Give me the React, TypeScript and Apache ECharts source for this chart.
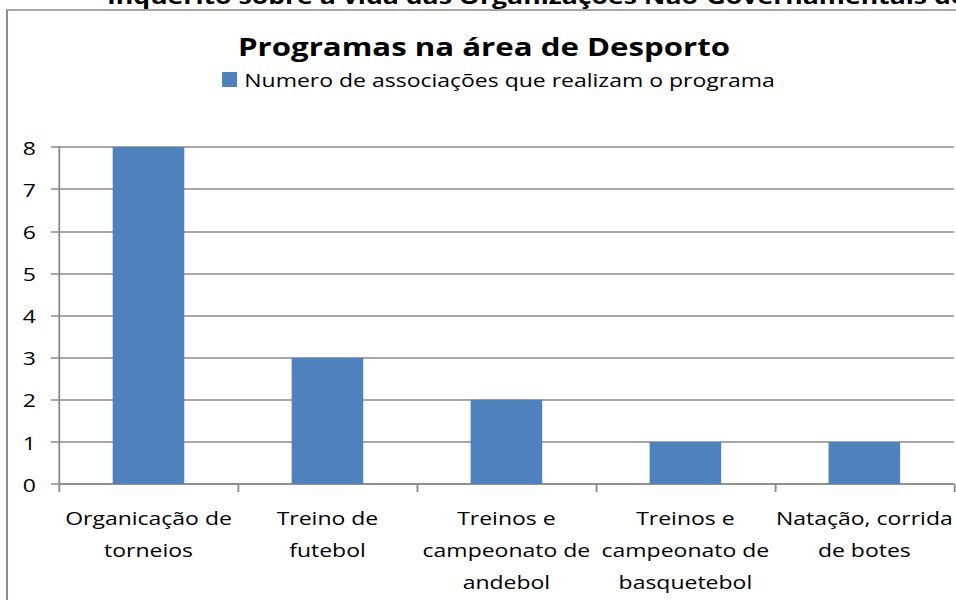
import React, { useEffect, useRef } from "react";
import * as echarts from "echarts";

const categories: string[] = [
  "Organicação de\ntorneios",
  "Treino de\nfutebol",
  "Treinos e\ncampeonato de\nandebol",
  "Treinos e\ncampeonato de\nbasquetebol",
  "Natação, corrida\nde botes",
];
const values: number[] = [8, 3, 2, 1, 1];
const seriesName = "Numero de associações que realizam o programa";
const chartTitle = "Programas na área de Desporto";
const pageHeading = "Inquérito sobre a vida das Organizações Não-Governamentais de Moçambique";

const SX = 1.21; // horizontal stretch of the reference
const W = 956 / SX;
const H = 600;
const FONT = '"Open Sans", "Noto Sans", sans-serif';
const GRAY = "#8a8a8a";

export default function App() {
  const ref = useRef<HTMLDivElement>(null);
  useEffect(() => {
    if (!ref.current) return;
    const chart = echarts.init(ref.current, undefined, { renderer: "svg" });
    chart.setOption({
      animation: false,
      backgroundColor: "#ffffff",
      textStyle: { fontFamily: FONT },
      title: {
        text: chartTitle,
        left: 478 / SX,
        textAlign: "center",
        top: 28,
        textStyle: { fontFamily: FONT, fontWeight: "bold", fontSize: 25.8, color: "#000" },
      },
      legend: {
        data: [seriesName],
        left: 216 / SX,
        top: 65,
        icon: "rect",
        itemWidth: 15 / SX,
        itemHeight: 15,
        textStyle: { fontFamily: FONT, fontSize: 19, color: "#000", padding: [0, 0, 0, 1] },
      },
      graphic: [
        {
          type: "rect",
          shape: { x: 7 / SX, y: 10, width: 1000, height: 800 },
          style: { fill: "none", stroke: GRAY, lineWidth: 1.7 },
          silent: true,
        },
        {
          type: "text",
          x: 107 / SX,
          y: -5,
          style: {
            text: pageHeading,
            fontFamily: FONT,
            fontWeight: "bold",
            fontSize: 22,
            fill: "#000",
            verticalAlign: "middle",
          },
          silent: true,
        },
      ],
      grid: {
        left: 59 / SX,
        top: 147,
        width: 900 / SX,
        height: 337,
        containLabel: false,
      },
      xAxis: {
        type: "category",
        data: categories,
        axisLine: { show: true, lineStyle: { color: GRAY, width: 1.5 } },
        axisTick: { show: true, interval: 0, alignWithLabel: false, length: 8, lineStyle: { color: GRAY, width: 1.5 } },
        axisLabel: {
          interval: 0,
          fontFamily: FONT,
          fontSize: 19,
          lineHeight: 32,
          color: "#000",
          margin: 17,
        },
      },
      yAxis: {
        type: "value",
        min: 0,
        max: 8,
        interval: 1,
        axisLine: { show: true, lineStyle: { color: GRAY, width: 1.5 } },
        axisTick: { show: true, length: 8 / SX, lineStyle: { color: GRAY, width: 1.5 } },
        splitLine: { show: true, lineStyle: { color: GRAY, width: 1.5 } },
        axisLabel: { fontFamily: FONT, fontSize: 19, color: "#000", margin: 23 / SX },
      },
      series: [
        {
          name: seriesName,
          type: "bar",
          data: values,
          barCategoryGap: "60%",
          itemStyle: { color: "#4F81BD" },
        },
      ],
    });
    return () => chart.dispose();
  }, []);
  return (
    <div style={{ position: "fixed", left: 0, top: 0, width: 956, height: H, overflow: "hidden", background: "#fff" }}>
      <div
        ref={ref}
        style={{ width: W, height: H, transform: `scaleX(${SX})`, transformOrigin: "0 0" }}
      />
    </div>
  );
}
